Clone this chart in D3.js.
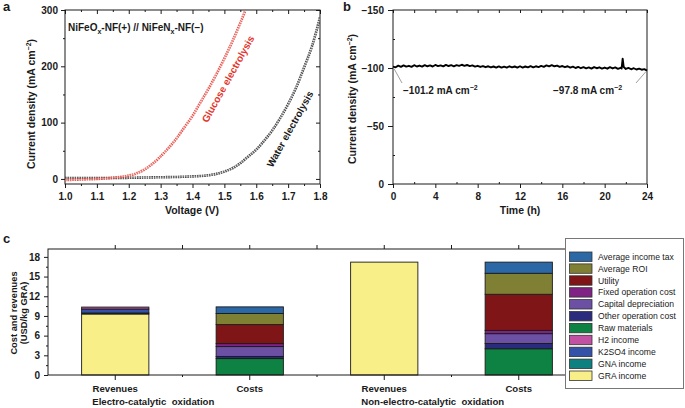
<!DOCTYPE html>
<html><head><meta charset="utf-8">
<script src="https://cdn.jsdelivr.net/npm/d3@7"></script>
<style>body{margin:0;background:#fff}svg{display:block;font-family:"Liberation Sans",Arial,Helvetica,sans-serif}</style>
</head><body><svg id="chart" width="685" height="408"></svg>
<script>
// ---------- Panel a data ----------
const aVoltGlucose = [1.00,1.05,1.10,1.15,1.20,1.225,1.25,1.275,1.30,1.325,1.35,1.375,1.40,1.425,1.45,1.475,1.50,1.525,1.55,1.565];
const aJGlucose    = [-2,-1,0,2,6,10,17,27,40,55,72,92,112,136,160,186,214,244,277,298];
const aVoltWater   = [1.00,1.10,1.20,1.25,1.30,1.35,1.40,1.45,1.475,1.50,1.525,1.55,1.575,1.60,1.625,1.65,1.675,1.70,1.725,1.75,1.775,1.80];
const aJWater      = [1.5,1.5,2,2.5,3,3.5,4.5,6.5,9,13,19,28,40,52,68,86,108,133,162,198,236,287];
const aVoltTicks = [1.0,1.1,1.2,1.3,1.4,1.5,1.6,1.7,1.8];
const aJTicks = [0,100,200,300];

// ---------- Panel b data ----------
const bTime = [0,0.25,0.5,0.75,1,1.25,1.5,1.75,2,2.25,2.5,2.75,3,3.25,3.5,3.75,4,4.25,4.5,4.75,5,5.25,5.5,5.75,6,6.25,6.5,6.75,7,7.25,7.5,7.75,8,8.25,8.5,8.75,9,9.25,9.5,9.75,10,10.25,10.5,10.75,11,11.25,11.5,11.75,12,12.25,12.5,12.75,13,13.25,13.5,13.75,14,14.25,14.5,14.75,15,15.25,15.5,15.75,16,16.25,16.5,16.75,17,17.25,17.5,17.75,18,18.25,18.5,18.75,19,19.25,19.5,19.75,20,20.25,20.5,20.75,21,21.25,21.5,21.6,21.7,21.8,22,22.25,22.5,22.75,23,23.25,23.5,23.75,24];
const bCurrent = [-101.2,-100.6,-102.0,-101.0,-102.3,-101.2,-101.9,-101.0,-102.4,-101.3,-102.1,-101.2,-102.5,-101.5,-102.2,-101.3,-102.6,-101.6,-102.3,-101.4,-102.7,-101.7,-102.4,-101.5,-102.5,-101.8,-102.8,-101.9,-102.6,-101.6,-102.2,-101.2,-101.9,-100.9,-101.7,-100.7,-101.5,-100.5,-101.3,-100.4,-101.4,-100.3,-101.2,-100.4,-101.5,-100.5,-101.3,-100.4,-101.5,-100.4,-101.3,-100.5,-101.6,-100.6,-101.5,-100.8,-101.8,-101.0,-102.3,-101.4,-102.5,-101.5,-102.1,-101.0,-101.7,-100.7,-101.5,-100.3,-101.1,-100.0,-100.9,-99.8,-100.7,-99.7,-100.5,-99.5,-100.8,-99.8,-100.6,-99.5,-100.4,-99.4,-100.7,-99.6,-100.5,-99.3,-100.2,-99.5,-108.0,-100.8,-99.2,-100.1,-98.9,-99.8,-98.7,-99.5,-98.5,-99.0,-97.8];
const bTimeTicks = [0,4,8,12,16,20,24];
const bJTicks = [-150,-100,-50,0];
const bNotes = ["\u2212101.2 mA cm", "\u221297.8 mA cm"];

// ---------- Panel c data ----------
const cBarLabels = ["Revenues","Costs","Revenues","Costs"];
const cGroupLabels = ["Electro-catalytic  oxidation","Non-electro-catalytic  oxidation"];
const cKeys = ["GRA income","GNA income","K2SO4 income","H2 income","Raw materials","Other operation cost","Capital depreciation","Fixed operation cost","Utility","Average ROI","Average income tax"];
const cGRA   = [9.3, 0, 17.2, 0];
const cGNA   = [0.15, 0, 0, 0];
const cK2SO4 = [0.6, 0, 0, 0];
const cH2    = [0.3, 0, 0, 0];
const cRaw   = [0, 2.5, 0, 4.0];
const cOther = [0, 0.33, 0, 0.8];
const cCapital = [0, 1.5, 0, 1.5];
const cFixed = [0, 0.45, 0, 0.5];
const cUtility = [0, 2.9, 0, 5.5];
const cROI   = [0, 1.7, 0, 3.2];
const cTax   = [0, 1.0, 0, 1.7];
const cColors = ["#f8ef88","#0e8080","#3452a8","#c152a3","#0d8243","#2a2b7c","#6c50a4","#7f2283","#7f1517","#7f8034","#2d68a6"];
const cYTicks = [0,3,6,9,12,15,18];

const FONT = '"Liberation Sans",Arial,Helvetica,sans-serif';
const svg = d3.select("#chart");
const INK = "#1a1a1a";

function styleAxis(g, size, weight) {
  g.select(".domain").remove();
  g.selectAll("line").attr("stroke", INK).attr("stroke-width", 1);
  g.selectAll("text").attr("font-family", FONT).attr("font-size", size || 10)
    .attr("font-weight", weight || "bold").attr("fill", INK);
}
function range(a, b, s) { const r = []; for (let v = a; v <= b + 1e-9; v += s) r.push(+v.toFixed(4)); return r; }

// ================= Panel a =================
const xA = d3.scaleLinear().domain([1.0, 1.8]).range([65, 320]);
const yA = d3.scaleLinear().domain([-9, 300]).range([184, 10]);
const gA = svg.append("g");
gA.append("clipPath").attr("id", "clipA").append("rect").attr("x", 65).attr("y", 10).attr("width", 255).attr("height", 174);

const aMinorX = range(1.05, 1.75, 0.1);
gA.append("g").attr("transform", "translate(0,184)")
  .call(d3.axisBottom(xA).tickValues(aVoltTicks).tickFormat(d3.format(".1f")).tickSize(4).tickPadding(5)).call(styleAxis);
gA.append("g").attr("transform", "translate(0,184)")
  .call(d3.axisBottom(xA).tickValues(aMinorX).tickFormat("").tickSize(2)).call(styleAxis);
gA.append("g").attr("transform", "translate(0,10)")
  .call(d3.axisTop(xA).tickValues(aVoltTicks).tickFormat("").tickSize(-4)).call(styleAxis);
gA.append("g").attr("transform", "translate(0,10)")
  .call(d3.axisTop(xA).tickValues(aMinorX).tickFormat("").tickSize(-2)).call(styleAxis);
gA.append("g").attr("transform", "translate(65,0)")
  .call(d3.axisLeft(yA).tickValues(aJTicks).tickSize(4).tickPadding(3)).call(styleAxis);
gA.append("g").attr("transform", "translate(65,0)")
  .call(d3.axisLeft(yA).tickValues([50,150,250]).tickFormat("").tickSize(2)).call(styleAxis);
gA.append("g").attr("transform", "translate(320,0)")
  .call(d3.axisRight(yA).tickValues(aJTicks).tickFormat("").tickSize(-4)).call(styleAxis);
gA.append("g").attr("transform", "translate(320,0)")
  .call(d3.axisRight(yA).tickValues([50,150,250]).tickFormat("").tickSize(-2)).call(styleAxis);
gA.append("rect").attr("x", 65).attr("y", 10).attr("width", 255).attr("height", 174)
  .attr("fill", "none").attr("stroke", INK).attr("stroke-width", 1);

const lineA = d3.line().x(d => xA(d[0])).y(d => yA(d[1])).curve(d3.curveMonotoneX);
const curves = [
  {v: aVoltWater, j: aJWater, c: "#222"},
  {v: aVoltGlucose, j: aJGlucose, c: "#e4352b"}
];
curves.forEach(cv => {
  const pts = cv.v.map((v, i) => [v, cv.j[i]]);
  gA.append("path").datum(pts).attr("d", lineA).attr("clip-path", "url(#clipA)")
    .attr("fill", "none").attr("stroke", cv.c).attr("stroke-width", 2.6).attr("stroke-dasharray", "1.6,0.8").attr("opacity", 0.85);
  gA.append("path").datum(pts).attr("d", lineA).attr("clip-path", "url(#clipA)")
    .attr("fill", "none").attr("stroke", "#fff").attr("stroke-width", 0.6).attr("opacity", 0.6);
});

const tA = gA.append("text").attr("x", 68).attr("y", 31).attr("font-size", 10).attr("font-weight", "bold").attr("fill", INK);
tA.append("tspan").text("NiFeO");
tA.append("tspan").attr("dy", 3).attr("font-size", 7).text("x");
tA.append("tspan").attr("dy", -3).text("-NF(+) // NiFeN");
tA.append("tspan").attr("dy", 3).attr("font-size", 7).text("x");
tA.append("tspan").attr("dy", -3).text("-NF(\u2212)");

gA.append("text").attr("transform", "translate(228,79) rotate(-61)").attr("text-anchor", "middle").attr("dy", "0.35em")
  .attr("font-size", 10).attr("font-weight", "bold").attr("fill", "#e4352b").text("Glucose electrolysis");
gA.append("text").attr("transform", "translate(290,129) rotate(-61)").attr("text-anchor", "middle").attr("dy", "0.35em")
  .attr("font-size", 10).attr("font-weight", "bold").attr("fill", INK).text("Water electrolysis");

gA.append("text").attr("x", 192).attr("y", 214).attr("text-anchor", "middle").attr("font-size", 10.5).attr("font-weight", "bold").attr("fill", INK).text("Voltage (V)");
const yLabA = gA.append("text").attr("transform", "translate(35,104) rotate(-90)").attr("text-anchor", "middle")
  .attr("font-size", 10.5).attr("font-weight", "bold").attr("fill", INK);
yLabA.append("tspan").text("Current density (mA cm");
yLabA.append("tspan").attr("dy", -4).attr("font-size", 7).text("\u22122");
yLabA.append("tspan").attr("dy", 4).text(")");
svg.append("text").attr("x", 3).attr("y", 11).attr("font-size", 13).attr("font-weight", "bold").attr("fill", INK).text("a");

// ================= Panel b =================
const xB = d3.scaleLinear().domain([0, 24]).range([393, 647]);
const yB = d3.scaleLinear().domain([-150, 0]).range([10, 184]);
const gB = svg.append("g");
gB.append("g").attr("transform", "translate(0,184)")
  .call(d3.axisBottom(xB).tickValues(bTimeTicks).tickSize(4).tickPadding(5)).call(styleAxis);
gB.append("g").attr("transform", "translate(0,184)")
  .call(d3.axisBottom(xB).tickValues(range(2, 22, 4)).tickFormat("").tickSize(-2)).call(styleAxis);
gB.append("g").attr("transform", "translate(0,10)")
  .call(d3.axisTop(xB).tickValues(range(0, 24, 2)).tickFormat("").tickSize(-3)).call(styleAxis);
gB.append("g").attr("transform", "translate(393,0)")
  .call(d3.axisLeft(yB).tickValues(bJTicks).tickSize(5).tickPadding(4)).call(styleAxis);
gB.append("g").attr("transform", "translate(393,0)")
  .call(d3.axisLeft(yB).tickValues([-125,-75,-25]).tickFormat("").tickSize(-2)).call(styleAxis);
gB.append("rect").attr("x", 393).attr("y", 10).attr("width", 254).attr("height", 174)
  .attr("fill", "none").attr("stroke", INK).attr("stroke-width", 1);
const lineB = d3.line().x(d => xB(d[0])).y(d => yB(d[1]));
gB.append("path").datum(bTime.map((t, i) => [t, bCurrent[i]])).attr("d", lineB)
  .attr("fill", "none").attr("stroke", "#000").attr("stroke-width", 1.9).attr("stroke-linejoin", "round");

// annotations
gB.append("line").attr("x1", xB(0) + 1).attr("y1", yB(bCurrent[0]) + 2).attr("x2", 402).attr("y2", 83)
  .attr("stroke", "#888").attr("stroke-width", 0.8);
gB.append("line").attr("x1", xB(24) - 1).attr("y1", yB(bCurrent[bCurrent.length - 1]) + 1).attr("x2", 636).attr("y2", 83)
  .attr("stroke", "#888").attr("stroke-width", 0.8);
[[403, bNotes[0]], [553, bNotes[1]]].forEach(([x, s]) => {
  const t = gB.append("text").attr("x", x).attr("y", 94).attr("font-size", 10).attr("font-weight", "bold").attr("fill", INK);
  t.append("tspan").text(s);
  t.append("tspan").attr("dy", -4).attr("font-size", 7).text("\u22122");
});
gB.append("text").attr("x", 520).attr("y", 214).attr("text-anchor", "middle").attr("font-size", 10.5).attr("font-weight", "bold").attr("fill", INK).text("Time (h)");
const yLabB = gB.append("text").attr("transform", "translate(356,99) rotate(-90)").attr("text-anchor", "middle")
  .attr("font-size", 10.5).attr("font-weight", "bold").attr("fill", INK);
yLabB.append("tspan").text("Current density (mA cm");
yLabB.append("tspan").attr("dy", -4).attr("font-size", 7).text("\u22122");
yLabB.append("tspan").attr("dy", 4).text(")");
svg.append("text").attr("x", 343).attr("y", 11).attr("font-size", 13).attr("font-weight", "bold").attr("fill", INK).text("b");

// ================= Panel c =================
const cSeries = [cGRA, cGNA, cK2SO4, cH2, cRaw, cOther, cCapital, cFixed, cUtility, cROI, cTax];
const cRows = cBarLabels.map((lab, i) => {
  const r = {idx: i};
  cKeys.forEach((k, j) => r[k] = cSeries[j][i]);
  return r;
});
const xC = d3.scaleBand().domain(d3.range(cBarLabels.length)).range([48, 586]).paddingInner(0.5).paddingOuter(0.25);
const yC = d3.scaleLinear().domain([0, 19.2]).range([375, 249]);
const gC = svg.append("g");
const stacked = d3.stack().keys(cKeys)(cRows);
stacked.forEach((layer, li) => {
  gC.append("g").selectAll("rect").data(layer.filter(d => d[1] - d[0] > 0)).join("rect")
    .attr("x", d => xC(d.data.idx)).attr("width", xC.bandwidth())
    .attr("y", d => yC(d[1])).attr("height", d => yC(d[0]) - yC(d[1]))
    .attr("fill", cColors[li]).attr("stroke", INK).attr("stroke-width", 0.9);
});
const step = xC.step();
const centers = d3.range(cBarLabels.length).map(i => xC(i) + xC.bandwidth() / 2);
const mids = centers.slice(0, -1).map(c => c + step / 2);
gC.append("rect").attr("x", 48).attr("y", 249).attr("width", 538).attr("height", 126)
  .attr("fill", "none").attr("stroke", INK).attr("stroke-width", 1);
gC.selectAll(".tb").data(centers).join("line").attr("x1", d => d).attr("x2", d => d).attr("y1", 375).attr("y2", 380).attr("stroke", INK);
gC.selectAll(".tbm").data(mids).join("line").attr("x1", d => d).attr("x2", d => d).attr("y1", 375).attr("y2", 377).attr("stroke", INK);
gC.selectAll(".tt").data(centers.concat(mids)).join("line").attr("x1", d => d).attr("x2", d => d).attr("y1", 249).attr("y2", 245).attr("stroke", INK);
gC.append("g").attr("transform", "translate(48,0)")
  .call(d3.axisLeft(yC).tickValues(cYTicks).tickSize(4).tickPadding(4)).call(g => styleAxis(g, 10));
gC.append("g").attr("transform", "translate(48,0)")
  .call(d3.axisLeft(yC).tickValues(range(1.5, 16.5, 3)).tickFormat("").tickSize(2)).call(styleAxis);
cBarLabels.forEach((lab, i) => {
  gC.append("text").attr("x", centers[i]).attr("y", 392).attr("text-anchor", "middle")
    .attr("font-size", 9.6).attr("font-weight", "bold").attr("fill", INK).text(lab);
});
cGroupLabels.forEach((lab, g) => {
  gC.append("text").attr("x", xC(g * 2) + xC.bandwidth() / 2 - 23).attr("y", 405)
    .attr("font-size", 9.6).attr("font-weight", "bold").attr("fill", INK).attr("xml:space", "preserve").style("white-space", "pre").text(lab);
});
const yLabC = gC.append("text").attr("transform", "translate(16.5,313) rotate(-90)").attr("text-anchor", "middle")
  .attr("font-size", 9.3).attr("font-weight", "bold").attr("fill", INK);
yLabC.append("tspan").attr("x", 0).attr("y", 0).text("Cost and revenues");
yLabC.append("tspan").attr("x", 0).attr("y", 10).text("(USD/kg GRA)");
svg.append("text").attr("x", 3).attr("y", 243).attr("font-size", 13).attr("font-weight", "bold").attr("fill", INK).text("c");

// legend
const leg = svg.append("g");
leg.append("rect").attr("x", 565.5).attr("y", 238.5).attr("width", 118).attr("height", 150)
  .attr("fill", "#fff").attr("stroke", "#777").attr("stroke-width", 1);
const legKeys = cKeys.slice().reverse();
const legColors = cColors.slice().reverse();
legKeys.forEach((k, i) => {
  const cy = 256.7 + i * 11.9;
  leg.append("rect").attr("x", 569.5).attr("y", cy - 4.7).attr("width", 22.5).attr("height", 9.4)
    .attr("fill", legColors[i]).attr("stroke", "#333").attr("stroke-width", 0.8);
  leg.append("text").attr("x", 598).attr("y", cy + 3).attr("font-size", 8.6).attr("fill", INK).text(k);
});
</script></body></html>
